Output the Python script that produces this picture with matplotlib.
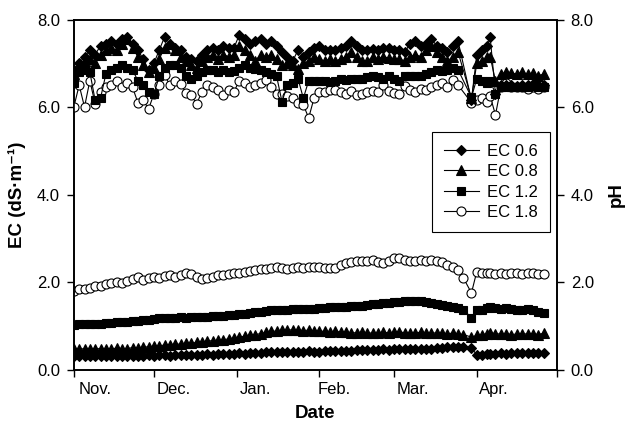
import numpy as np
import matplotlib
matplotlib.use('Agg')
import matplotlib.pyplot as plt

plt.rcParams['font.family'] = ['Liberation Sans', 'DejaVu Sans']

# days counted from 1 Nov
days = [0, 2, 4, 6, 8, 10, 12, 14, 16, 18,
        20, 22, 24, 26, 28, 30, 32, 34, 36, 38,
        40, 42, 44, 46, 48, 50, 52, 54, 56, 58,
        60, 62, 64, 66, 68, 70, 72, 74, 76, 78,
        80, 82, 84, 86, 88, 90, 92, 94, 96, 98,
        100, 102, 104, 106, 108, 110, 112, 114, 116, 118,
        120, 122, 124, 126, 128, 130, 132, 134, 136, 138,
        140, 142, 144, 146, 149, 151, 153, 155, 156, 158,
        160, 162, 164, 166, 168, 170, 172, 174, 176]

# EC of the drainage (dS/m)
ec_06 = [0.30, 0.31, 0.30, 0.31, 0.31, 0.30, 0.31, 0.32, 0.31, 0.31,
         0.32, 0.31, 0.32, 0.32, 0.33, 0.32, 0.33, 0.33, 0.32, 0.33,
         0.33, 0.34, 0.33, 0.34, 0.34, 0.35, 0.34, 0.35, 0.35, 0.36,
         0.36, 0.37, 0.36, 0.37, 0.38, 0.38, 0.39, 0.39, 0.40, 0.40,
         0.41, 0.41, 0.40, 0.41, 0.42, 0.41, 0.41, 0.42, 0.42, 0.43,
         0.43, 0.42, 0.43, 0.44, 0.44, 0.45, 0.44, 0.45, 0.46, 0.45,
         0.46, 0.46, 0.47, 0.48, 0.47, 0.48, 0.47, 0.48, 0.49, 0.50,
         0.51, 0.52, 0.51, 0.52, 0.50, 0.33, 0.34, 0.35, 0.36, 0.36,
         0.37, 0.36, 0.37, 0.38, 0.37, 0.38, 0.37, 0.38, 0.37]
ec_08 = [0.47, 0.46, 0.48, 0.48, 0.47, 0.48, 0.48, 0.47, 0.49, 0.48,
         0.48, 0.50, 0.49, 0.51, 0.52, 0.53, 0.54, 0.56, 0.57, 0.58,
         0.58, 0.60, 0.60, 0.62, 0.63, 0.65, 0.66, 0.67, 0.68, 0.70,
         0.72, 0.74, 0.76, 0.78, 0.80, 0.82, 0.85, 0.87, 0.88, 0.90,
         0.90, 0.91, 0.90, 0.89, 0.90, 0.88, 0.88, 0.87, 0.86, 0.87,
         0.86, 0.85, 0.84, 0.84, 0.85, 0.84, 0.83, 0.84, 0.85, 0.84,
         0.85, 0.86, 0.84, 0.83, 0.84, 0.85, 0.84, 0.83, 0.84, 0.83,
         0.82, 0.83, 0.81, 0.80, 0.74, 0.78, 0.80, 0.82, 0.84, 0.82,
         0.81, 0.82, 0.80, 0.81, 0.82, 0.81, 0.82, 0.80, 0.83]
ec_12 = [1.02, 1.03, 1.03, 1.04, 1.05, 1.05, 1.06, 1.07, 1.08, 1.08,
         1.09, 1.10, 1.12, 1.13, 1.14, 1.15, 1.17, 1.18, 1.18, 1.18,
         1.19, 1.18, 1.19, 1.20, 1.20, 1.21, 1.22, 1.22, 1.23, 1.24,
         1.25, 1.27, 1.28, 1.30, 1.31, 1.32, 1.34, 1.35, 1.36, 1.36,
         1.37, 1.38, 1.38, 1.38, 1.39, 1.39, 1.40, 1.41, 1.42, 1.43,
         1.44, 1.44, 1.45, 1.45, 1.46, 1.48, 1.50, 1.50, 1.51, 1.52,
         1.54, 1.55, 1.56, 1.57, 1.57, 1.56, 1.55, 1.53, 1.50, 1.48,
         1.46, 1.44, 1.40, 1.37, 1.18, 1.36, 1.37, 1.40, 1.42, 1.40,
         1.38, 1.40, 1.38, 1.37, 1.36, 1.38, 1.35, 1.32, 1.30]
ec_18 = [1.80, 1.83, 1.85, 1.87, 1.90, 1.92, 1.95, 1.97, 2.00, 1.97,
         2.03, 2.08, 2.12, 2.05, 2.10, 2.12, 2.10, 2.13, 2.15, 2.12,
         2.16, 2.20, 2.18, 2.12, 2.07, 2.10, 2.12, 2.15, 2.16, 2.18,
         2.20, 2.20, 2.22, 2.25, 2.27, 2.30, 2.30, 2.33, 2.35, 2.32,
         2.30, 2.33, 2.35, 2.33, 2.35, 2.35, 2.35, 2.33, 2.32, 2.32,
         2.38, 2.43, 2.45, 2.47, 2.49, 2.48, 2.50, 2.45, 2.43, 2.47,
         2.55, 2.56, 2.50, 2.49, 2.49, 2.50, 2.49, 2.50, 2.47, 2.45,
         2.40, 2.35, 2.27, 2.09, 1.75, 2.24, 2.20, 2.20, 2.21, 2.19,
         2.20, 2.18, 2.20, 2.21, 2.19, 2.20, 2.20, 2.18, 2.19]

# pH of the drainage (nan = not measured)
nan = float('nan')
ph_06 = [6.85, 7.00, 7.15, 7.30, 7.20, 7.40, 7.45, 7.50, 7.45, 7.55,
         7.60, 7.45, 7.30, 7.10, 6.85, 7.00, 7.30, 7.60, 7.45, 7.35,
         7.30, 7.15, 7.10, 7.05, 7.20, 7.30, 7.35, 7.30, 7.40, 7.35,
         7.35, 7.65, 7.55, 7.45, 7.50, 7.55, 7.45, 7.50, 7.40, 7.25,
         7.15, 7.05, 7.30, 7.15, 7.25, 7.35, 7.40, 7.30, 7.30, 7.30,
         7.35, 7.40, 7.50, 7.40, 7.30, 7.30, 7.32, 7.30, 7.35, 7.35,
         7.30, 7.30, 7.25, 7.45, 7.50, 7.40, 7.45, 7.55, 7.40, 7.35,
         7.25, 7.40, 7.50, nan, 6.15, 7.20, 7.30, 7.40, 7.60, 6.30,
         6.50, 6.50, 6.50, 6.48, 6.50, 6.50, 6.52, 6.50, 6.50]
ph_08 = [6.75, 6.90, 7.05, 7.10, 7.00, 7.20, 7.30, 7.35, 7.30, 7.45,
         7.55, 7.35, 7.15, 6.95, 6.80, 6.90, 7.10, 7.35, 7.45, 7.30,
         7.15, 7.05, 6.95, 6.90, 7.05, 7.15, 7.20, 7.10, 7.20, 7.15,
         7.20, 7.40, 7.30, 7.20, 7.05, 7.20, 7.15, 7.20, 7.10, 6.95,
         7.00, 6.95, 6.88, 7.00, 7.05, 7.15, 7.10, 7.05, 7.10, 7.05,
         7.10, 7.15, 7.25, 7.15, 7.05, 7.05, 7.15, 7.10, 7.15, 7.12,
         7.10, 7.10, 7.05, 7.15, 7.20, 7.15, 7.30, 7.40, 7.25, 7.15,
         7.05, 7.15, 7.25, nan, 6.20, 7.00, 7.05, 7.15, 7.15, 6.60,
         6.75, 6.80, 6.78, 6.75, 6.80, 6.75, 6.78, 6.72, 6.75]
ph_12 = [6.55, 6.80, 6.85, 6.80, 6.15, 6.20, 6.75, 6.85, 6.90, 6.95,
         6.90, 6.85, 6.60, 6.50, 6.35, 6.30, 6.70, 6.90, 6.95, 6.95,
         6.90, 6.70, 6.65, 6.70, 6.80, 6.85, 6.85, 6.80, 6.85, 6.80,
         6.82, 6.90, 6.95, 6.90, 6.88, 6.85, 6.80, 6.75, 6.70, 6.12,
         6.50, 6.55, 6.65, 6.20, 6.60, 6.60, 6.60, 6.60, 6.58, 6.60,
         6.65, 6.62, 6.65, 6.65, 6.65, 6.68, 6.70, 6.68, 6.65, 6.70,
         6.65, 6.60, 6.70, 6.72, 6.70, 6.72, 6.75, 6.80, 6.85, 6.82,
         6.85, 6.90, 6.85, nan, 6.22, 6.65, 6.60, 6.55, 6.60, 6.30,
         6.45, 6.45, 6.45, 6.45, 6.45, 6.45, 6.47, 6.45, 6.45]
ph_18 = [6.00, 6.50, 6.00, 6.60, 6.07, 6.35, 6.45, 6.50, 6.60, 6.45,
         6.55, 6.45, 6.10, 6.16, 5.95, 6.30, 6.50, 6.73, 6.50, 6.60,
         6.52, 6.33, 6.27, 6.07, 6.35, 6.50, 6.45, 6.40, 6.27, 6.40,
         6.35, 6.60, 6.55, 6.45, 6.50, 6.55, 6.62, 6.45, 6.30, 6.30,
         6.25, 6.20, 6.10, 6.05, 5.75, 6.20, 6.35, 6.35, 6.40, 6.38,
         6.35, 6.30, 6.37, 6.28, 6.30, 6.35, 6.37, 6.35, 6.50, 6.37,
         6.33, 6.30, 6.48, 6.40, 6.35, 6.42, 6.40, 6.45, 6.50, 6.55,
         6.45, 6.62, 6.50, nan, 6.10, 6.15, 6.20, 6.12, 6.25, 5.82,
         6.45, 6.55, 6.45, 6.45, 6.45, 6.42, 6.45, 6.42, 6.45]

labels = ['EC 0.6', 'EC 0.8', 'EC 1.2', 'EC 1.8']
month_starts = [0, 30, 61, 92, 120, 151, 181]
month_names = ['Nov.', 'Dec.', 'Jan.', 'Feb.', 'Mar.', 'Apr.']
month_label_pos = [8, 37.5, 68, 97.5, 127, 157.5]

styles = {
    'EC 0.6': dict(marker='D', ms=5.5, mfc='black'),
    'EC 0.8': dict(marker='^', ms=7, mfc='black'),
    'EC 1.2': dict(marker='s', ms=6, mfc='black'),
    'EC 1.8': dict(marker='o', ms=6.5, mfc='white'),
}

fig = plt.figure(figsize=(6.31, 4.24), dpi=100)
ax = fig.add_axes([0.117, 0.1285, 0.7655, 0.8255])
ax2 = ax.twinx()

x = np.array(days, dtype=float)
handles = {}
for name, ec, ph in reversed(list(zip(labels, [ec_06, ec_08, ec_12, ec_18],
                                       [ph_06, ph_08, ph_12, ph_18]))):
    st = styles[name]
    ph = np.array(ph)
    ok = ~np.isnan(ph)
    h, = ax.plot(x, ec, color='black', lw=0.8, mec='black', mew=0.8, **st)
    ax2.plot(x[ok], ph[ok], color='black', lw=0.8, mec='black', mew=0.8, **st)
    handles[name] = h

for a in (ax, ax2):
    a.set_ylim(0, 8)
    a.set_yticks([0, 2, 4, 6, 8])
    a.set_yticklabels(['0.0', '2.0', '4.0', '6.0', '8.0'])
    a.tick_params(axis='y', labelsize=12, length=5, width=1, pad=5)
    for s in a.spines.values():
        s.set_linewidth(1.2)

ax.set_xlim(0, 181)
ax.set_xticks(month_starts)
ax.set_xticklabels([])
ax.set_xticks(month_label_pos, minor=True)
ax.set_xticklabels(month_names, minor=True)
ax.tick_params(axis='x', which='major', length=5, width=1)
ax.tick_params(axis='x', which='minor', length=0, labelsize=12, pad=9)

ax.set_xlabel('Date', fontsize=13.5, fontweight='bold', labelpad=6)
ax.set_ylabel('EC (dS\u00b7m\u207b\u00b9)', fontsize=13.5, fontweight='bold', labelpad=8)
ax2.set_ylabel('pH', fontsize=13.5, fontweight='bold', labelpad=10)

leg = ax2.legend([handles[n] for n in labels], labels, loc='upper right',
                 bbox_to_anchor=(0.985, 0.679), fontsize=12, frameon=True,
                 fancybox=False, edgecolor='black', framealpha=1,
                 handlelength=2.1, handletextpad=0.5, labelspacing=0.33,
                 borderpad=0.7, borderaxespad=0)
leg.get_frame().set_linewidth(0.8)

fig.savefig('out.png', dpi=100)
